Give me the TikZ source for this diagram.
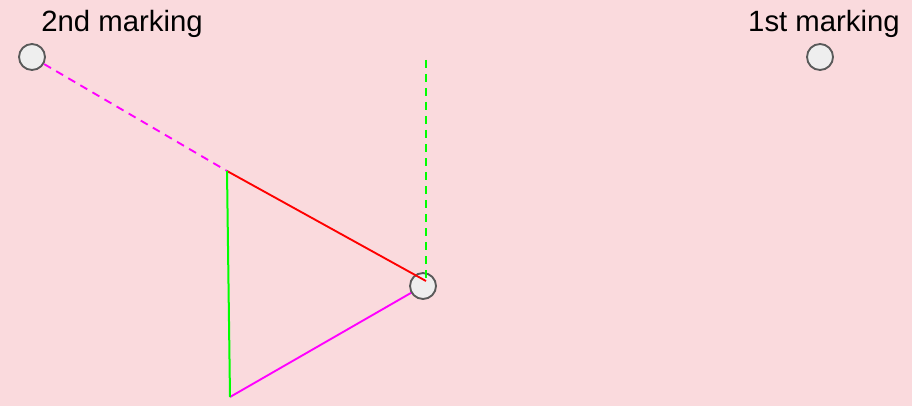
\documentclass[tikz,border=0pt]{standalone}
\usepackage{fontspec}
\setmainfont{Liberation Sans}
\definecolor{bgpink}{RGB}{250,218,221}
\definecolor{circfill}{RGB}{238,238,238}
\definecolor{circdraw}{RGB}{90,90,90}
\definecolor{lime}{RGB}{0,255,0}
\definecolor{magpure}{RGB}{255,0,255}
\definecolor{redpure}{RGB}{255,0,0}
\begin{document}
\begin{tikzpicture}[x=0.75pt,y=-0.75pt,
  markcircle/.style={circle,draw=circdraw,fill=circfill,line width=1.4pt,minimum size=19.5pt,inner sep=0pt},
  lbl/.style={anchor=base,inner sep=0pt,font=\fontsize{22}{26}\selectfont},
  redline/.style={draw=redpure,line width=1.4pt},
  limeline/.style={draw=lime,line width=1.5pt},
  magline/.style={draw=magpure,line width=1.4pt},
  dashpat/.style={dash pattern=on 6pt off 4.5pt}]
\fill[bgpink] (0,0) rectangle (912,406);
\useasboundingbox (0,0) rectangle (912,406);
% positions
\coordinate (p2) at (32,57);
\coordinate (p1) at (820,57);
\coordinate (pm) at (423,286);
\coordinate (A) at (227,171);
\coordinate (B) at (230,397);
\coordinate (G) at (426,60);
\coordinate (R) at (426,281);
% lines behind circles
\draw[magline,dashpat] (p2) -- (A);
\draw[magline] (B) -- (pm);
% circles
\node[markcircle] (c2) at (p2) {};
\node[markcircle] (c1) at (p1) {};
\node[markcircle] (cm) at (pm) {};
% lines on top
\draw[redline] (A) -- (R);
\draw[limeline] (A) -- (B);
\draw[limeline,dashpat] (G) -- (R);
% labels
\node[lbl] (l2) at (122,32) {2nd marking};
\node[lbl] (l1) at (824,32) {1st marking};
\end{tikzpicture}
\end{document}
